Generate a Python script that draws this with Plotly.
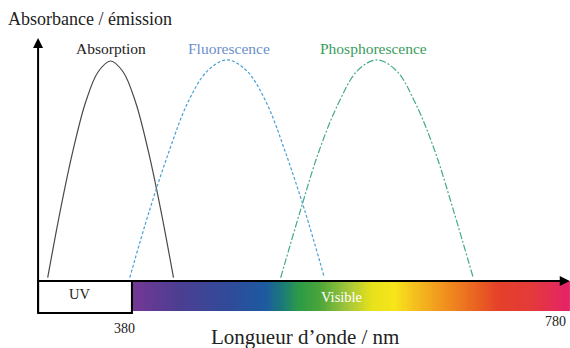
import numpy as np
import plotly.graph_objects as go

# ---- data (x: wavelength in nm, y: relative intensity) ----
abs_x = [303, 314.5, 326, 337.5, 349, 360.5, 372, 383.5, 395, 406.5, 418]
abs_y = [1.5, 32, 59, 81, 95, 100, 95, 81, 59, 32, 1.5]

flu_x = [378, 396, 414, 431, 449, 467, 485, 503, 520, 538, 556]
flu_y = [1.5, 32, 59, 81, 95.5, 100.5, 95.5, 81, 59, 32, 1.5]

pho_x = [516, 534, 551, 569, 586, 604, 622, 639, 657, 674, 692]
pho_y = [1.5, 32, 59, 81, 95.5, 100.5, 95.5, 81, 59, 32, 1.5]

tick_labels = ["380", "780"]
uv_limit = 380
vis_limit = 780

# spectrum colour stops (fraction of 380-780 nm)
spectrum_stops = [
    [0.0, "#743794"], [0.114, "#4a3f92"], [0.228, "#2f4b9a"], [0.304, "#1d5aa0"],
    [0.343, "#1a7a7a"], [0.381, "#2c9a48"], [0.427, "#4aa43a"], [0.496, "#a8c83a"],
    [0.548, "#e8e21a"], [0.6, "#f7e51a"], [0.646, "#f4c01e"], [0.724, "#f08a1e"],
    [0.799, "#e85a22"], [0.838, "#e4402a"], [0.913, "#e43a3a"], [1.0, "#e5226a"],
]

X0 = 294.2          # wavelength at the y axis
XMIN, XMAX = 292.3, 780.5
YMIN, YMAX = -15.45, 110.9
FONT = "'Liberation Serif', 'DejaVu Serif', 'Times New Roman', serif"

fig = go.Figure()

# spectrum bar
edges = np.arange(uv_limit, vis_limit + 2, 2)
centers = (edges[:-1] + edges[1:]) / 2
fig.add_trace(go.Heatmap(
    x=edges, y=[-13.6, 0], z=[centers], zmin=uv_limit, zmax=vis_limit,
    colorscale=spectrum_stops, showscale=False, hoverinfo="skip"))

# curves
fig.add_trace(go.Scatter(x=abs_x, y=abs_y, mode="lines", line_shape="spline",
                         line=dict(color="#4a4a4a", width=1.2), hoverinfo="skip"))
fig.add_trace(go.Scatter(x=flu_x, y=flu_y, mode="lines", line_shape="spline",
                         line=dict(color="#4a9fd6", width=1.2, dash="3px,2px"), hoverinfo="skip"))
fig.add_trace(go.Scatter(x=pho_x, y=pho_y, mode="lines", line_shape="spline",
                         line=dict(color="#45a88a", width=1.2, dash="7px,2px,2px,2px"), hoverinfo="skip"))

# UV box
fig.add_shape(type="rect", x0=X0, x1=uv_limit, y0=-14.5, y1=0,
              line=dict(color="black", width=2), fillcolor="white", layer="above")

# axes with arrows
fig.add_annotation(x=X0, y=110.4, ax=X0, ay=-14.9, xref="x", yref="y", axref="x", ayref="y",
                   text="", showarrow=True, arrowhead=2, arrowsize=1, arrowwidth=2, arrowcolor="black")
fig.add_annotation(x=780.3, y=0, ax=X0, ay=0, xref="x", yref="y", axref="x", ayref="y",
                   text="", showarrow=True, arrowhead=2, arrowsize=1, arrowwidth=2, arrowcolor="black")

def label(text, x, y, size, color="black", xref="x", yref="y"):
    fig.add_annotation(x=x, y=y, xref=xref, yref=yref, text=text, showarrow=False,
                       font=dict(family=FONT, size=size, color=color),
                       xanchor="center", yanchor="middle")

label("Absorption", 361, 105.9, 15.5, "#222222")
label("Fluorescence", 469, 105.9, 15.5, "#6b8fca")
label("Phosphorescence", 601, 105.9, 15.5, "#3a9c5c")
label("UV", 332.5, -5.9, 14.5, "#222222")
label("Visible", 572, -7.3, 14.5, "white")
label(tick_labels[0], 373, -0.047, 14, "#222222", yref="paper")
label(tick_labels[1], 767, -0.025, 14, "#222222", yref="paper")
label("Longueur d\u2019onde / nm", 0.504, -0.079, 21, "#222222", xref="paper", yref="paper")
fig.add_annotation(x=-0.057, y=1.066, xref="paper", yref="paper", text="Absorbance / \u00e9mission",
                   showarrow=False, xanchor="left", yanchor="middle",
                   font=dict(family=FONT, size=18, color="#222222"))

fig.update_layout(
    width=570, height=348, margin=dict(l=36, r=0, t=37, b=33),
    paper_bgcolor="white", plot_bgcolor="white", showlegend=False,
    font=dict(family=FONT),
    xaxis=dict(range=[XMIN, XMAX], visible=False, fixedrange=True),
    yaxis=dict(range=[YMIN, YMAX], visible=False, fixedrange=True),
)

fig.write_html("out.html")
